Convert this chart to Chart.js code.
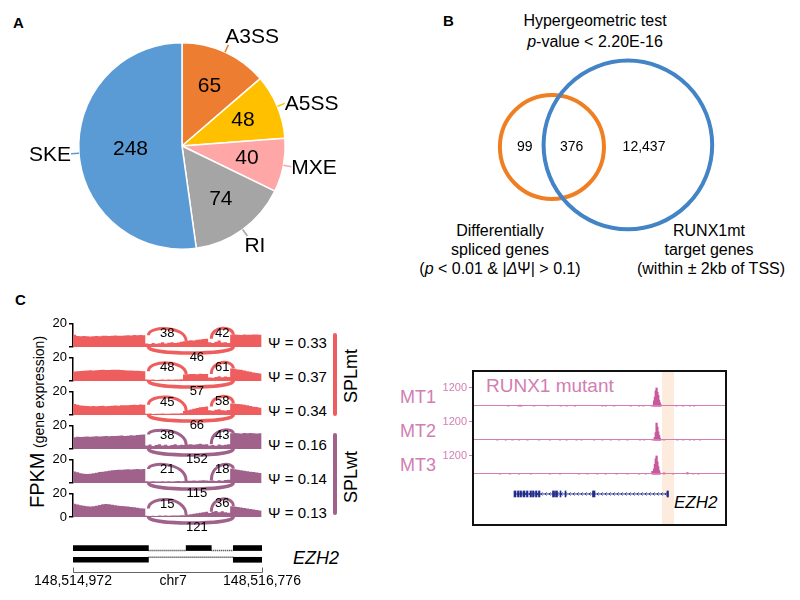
<!DOCTYPE html>
<html>
<head>
<meta charset="utf-8">
<script src="https://cdn.jsdelivr.net/npm/chart.js@4.4.1/dist/chart.umd.min.js"></script>
<style>
  body { margin: 0; background: #fff; font-family: "Liberation Sans", Arial, sans-serif; }
  #wrap { position: relative; width: 800px; height: 600px; overflow: hidden; }
  canvas { position: absolute; }
  .t { position: absolute; white-space: nowrap; line-height: 1; transform: translateY(-50%); color: #000; }
  .c { transform: translate(-50%, -50%); }
  .pk { color: #D27EB2; }
</style>
</head>
<body>
<div id="wrap">
  <!-- panel letters -->
  <div class="t" style="left:13px;top:22px;font-size:15px;font-weight:bold">A</div>
  <div class="t" style="left:443px;top:20px;font-size:15px;font-weight:bold">B</div>
  <div class="t" style="left:15px;top:299px;font-size:15px;font-weight:bold">C</div>

  <!-- panel B texts -->
  <div class="t c" style="left:595px;top:21px;font-size:16px">Hypergeometric test</div>
  <div class="t c" style="left:595px;top:42px;font-size:16px"><i>p</i>-value &lt; 2.20E-16</div>
  <div class="t c" style="left:500px;top:231px;font-size:16px">Differentially</div>
  <div class="t c" style="left:500px;top:250px;font-size:16px">spliced genes</div>
  <div class="t c" style="left:500px;top:269px;font-size:16px">(<i>p</i> &lt; 0.01 &amp; |<i>Δ</i>Ψ| &gt; 0.1)</div>
  <div class="t c" style="left:709px;top:231px;font-size:16px">RUNX1mt</div>
  <div class="t c" style="left:709px;top:250px;font-size:16px">target genes</div>
  <div class="t c" style="left:711px;top:269px;font-size:16px">(within ± 2kb of TSS)</div>

  <!-- panel C side texts -->
  <div class="t c" style="left:37px;top:422px;transform:translate(-50%,-50%) rotate(-90deg)"><span style="font-size:20px">FPKM</span> <span style="font-size:14px">(gene expression)</span></div>
  <div id="psiBox"></div>
  <div style="position:absolute;left:333px;top:333px;width:4px;height:83px;border-radius:2px;background:#EF5E5E"></div>
  <div style="position:absolute;left:333px;top:433px;width:4px;height:82px;border-radius:2px;background:#A0628B"></div>
  <div class="t c" style="left:351px;top:376px;font-size:18px;transform:translate(-50%,-50%) rotate(-90deg)">SPLmt</div>
  <div class="t c" style="left:351px;top:477px;font-size:18px;transform:translate(-50%,-50%) rotate(-90deg)">SPLwt</div>
  <div class="t" style="left:293px;top:558px;font-size:18px;font-style:italic">EZH2</div>

  <!-- right panel texts -->
  <div class="t pk" style="left:486px;top:385px;font-size:19px">RUNX1 mutant</div>
  <div class="t pk" style="right:364px;top:397px;font-size:18px">MT1</div>
  <div class="t pk" style="right:364px;top:431px;font-size:18px">MT2</div>
  <div class="t pk" style="right:364px;top:465px;font-size:18px">MT3</div>
  <div class="t" style="left:674px;top:502px;font-size:17px;font-style:italic">EZH2</div>
</div>

<script>
Chart.defaults.font.family = '"Liberation Sans", Arial, sans-serif';
Chart.defaults.animation = false;

// ── Panel A: splicing event types ───────────────────────────
const pieLabels = ['A3SS', 'A5SS', 'MXE', 'RI', 'SKE'];
const pieCounts = [65, 48, 40, 74, 248];
const pieColors = ['#ED7D31', '#FFC000', '#FFA7A7', '#A5A5A5', '#5B9BD5'];

// ── Panel B: overlap of the two gene sets ───────────────────
const vennNames = ['Differentially spliced genes', 'RUNX1mt target genes'];
const vennX = [0, 1.46];
const vennY = [0, 0.04];
const vennR = [1, 1.62];
const vennColors = ['#EF7F22', '#4384C6'];
const vennCounts = ['99', '376', '12,437'];
const vennCountX = [-0.52, 0.38, 1.77];

// ── Panel C: sashimi of EZH2 (30 bp bins from region start) ─
const regionSpan = 1804;
const binSize = 30;
const exonsLong = [[0, 720], [1080, 1320], [1530, 1804]];
const exonsSkip = [[0, 720], [1530, 1804]];
const rulerPos = [0, 955, 1804];
const rulerLabels = ['148,514,972', 'chr7', '148,516,776'];

const covMt1 = [11.5,10.5,9.5,9.2,9.4,9.3,9.0,9.2,9.5,9.3,9.6,9.8,9.5,9.7,9.9,9.6,9.8,10.0,10.2,10.0,10.3,10.1,10.4,10.2,
  3.0,2.5,3.5,2.8,3.2,4.0,3.0,3.6,4.2,3.4,3.8,4.5,
  5.0,5.4,5.8,5.6,6.2,6.5,6.8,7.2,
  4.0,3.5,4.5,5.5,3.8,4.2,3.5,
  10.5,10.8,10.6,10.4,10.7,10.5,10.6,10.8,10.7,10.6];
const covMt2 = [8.0,8.2,8.5,8.6,8.8,9.0,9.2,9.1,9.3,9.5,9.6,9.4,9.5,9.7,9.8,9.6,9.4,9.3,9.1,9.0,8.8,8.9,8.7,8.5,
  1.2,1.0,1.3,0.9,1.1,1.2,1.0,1.4,1.1,1.3,1.2,1.5,
  5.5,5.8,6.0,6.0,5.8,6.2,6.0,6.1,
  3.0,2.8,3.5,4.0,3.2,3.8,3.5,
  10.8,10.5,10.0,9.6,9.0,8.5,8.0,7.4,6.8,6.5];
const covMt3 = [10.0,9.5,8.8,8.2,8.0,7.8,7.6,7.8,7.5,7.7,7.9,7.6,7.8,8.0,8.2,8.0,8.3,8.5,8.4,8.6,8.8,8.7,9.0,8.9,
  1.0,1.2,0.9,1.1,1.0,1.3,1.1,1.0,1.2,1.4,1.3,1.5,
  3.5,4.2,4.8,5.4,6.0,6.6,7.0,7.4,
  4.0,3.6,4.5,5.0,4.2,3.8,4.4,
  10.0,9.8,9.5,9.2,8.8,8.3,7.8,7.2,6.8,6.2];
const covWt1 = [10.0,10.2,10.5,10.3,10.6,10.8,10.5,10.7,11.0,10.8,11.0,11.2,11.0,11.3,11.1,11.4,11.6,11.3,11.5,11.8,11.6,12.0,12.2,12.4,
  3.0,3.8,2.6,3.4,4.2,3.0,3.6,2.8,3.5,4.0,3.2,3.6,
  3.5,3.8,4.2,3.6,4.0,4.5,3.8,4.2,
  3.0,3.5,2.8,3.8,3.2,3.6,4.0,
  13.5,13.8,13.6,13.4,13.7,13.5,13.8,13.6,13.4,13.5];
const covWt2 = [10.5,10.0,9.2,8.5,8.0,7.8,8.0,8.4,8.8,9.4,9.8,10.2,10.6,11.0,11.2,11.5,11.4,11.6,11.8,11.7,11.9,12.0,11.8,12.1,
  1.5,1.3,1.6,1.2,1.4,1.5,1.3,1.6,1.4,1.5,1.7,1.6,
  1.8,2.0,1.9,2.2,2.0,2.1,2.3,2.2,
  2.0,2.2,1.8,2.4,2.0,2.5,2.8,
  12.2,11.8,11.5,11.0,10.6,10.2,9.8,9.4,9.0,8.6];
const covWt3 = [12.0,11.5,10.8,10.2,9.6,9.2,9.0,9.3,9.8,10.4,10.9,11.2,11.0,10.6,10.2,9.8,9.5,9.2,9.0,8.6,8.3,8.0,7.6,7.3,
  1.0,0.8,1.1,0.9,1.2,1.0,1.3,1.1,1.2,1.4,1.3,1.5,
  1.6,2.0,2.4,2.9,3.3,3.7,4.1,4.5,
  3.5,4.5,5.2,4.0,5.0,4.2,3.6,
  9.2,9.0,8.6,8.2,7.8,7.4,7.0,6.5,6.0,5.6];

const coverages = [covMt1, covMt2, covMt3, covWt1, covWt2, covWt3];
const juncInc1 = [38, 48, 45, 38, 21, 15];
const juncInc2 = [42, 61, 58, 43, 18, 36];
const juncSkip = [46, 57, 66, 152, 115, 121];
const psiValues = ['0.33', '0.37', '0.34', '0.16', '0.14', '0.13'];
const trackColors = ['#EF5E5E', '#EF5E5E', '#EF5E5E', '#A0628B', '#A0628B', '#A0628B'];

// ── Right panel: RUNX1 mutant ChIP tracks ([bin, signal]) ───
const chipMax = 1200;
const chipBins = 251;
const chipMt1 = [[16,70],[28,40],[30,90],[32,60],[47,30],[63,25],[79,45],[86,30],[96,25],[129,50],[133,40],[143,35],
  [163,25],[173,30],[178,35],[188,60],[190,90],[191,350],[192,600],[193,1000],[194,1200],[195,900],[196,700],
  [197,400],[198,220],[199,100],[218,40],[226,35],[234,55],[239,30]];
const chipMt2 = [[3,25],[13,20],[21,30],[29,25],[39,20],[53,30],[66,25],[78,20],[86,30],[98,25],[104,20],[119,45],
  [129,25],[139,20],[149,25],[159,20],[174,30],[179,20],[189,40],[191,80],[192,200],[193,500],[194,1100],
  [195,850],[196,550],[197,320],[198,150],[199,60],[203,30],[219,25],[226,20],[234,30],[239,25],[246,20]];
const chipMt3 = [[6,40],[18,30],[29,50],[43,30],[66,60],[78,30],[101,40],[111,60],[123,30],[133,45],[146,35],
  [159,30],[173,55],[181,40],[189,200],[190,100],[191,350],[192,650],[193,1000],[194,1200],[195,800],[196,500],
  [197,250],[198,90],[203,100],[214,50],[231,110],[238,60],[244,40]];
const chipTracks = [chipMt1, chipMt2, chipMt3];
const ezh2Exons = [[40,42],[43.5,45],[46,47.5],[49,51],[52.5,54],[56,57.5],[58.5,60],[61.5,63],[64.5,66],
  [78.5,80.5],[81.5,83.5],[86,87],[91,92],[118.5,121],[193,194.5]];
const ezh2Highlight = [188, 200];

// ── helpers ─────────────────────────────────────────────────
const wrap = document.getElementById('wrap');
function mk(left, top, w, h) {
  const c = document.createElement('canvas');
  c.width = w; c.height = h;
  c.style.left = left + 'px'; c.style.top = top + 'px';
  wrap.appendChild(c);
  return c;
}
const base = { responsive: false, animation: false, devicePixelRatio: 1,
  plugins: { legend: { display: false }, tooltip: { enabled: false } } };

// ── Panel A pie ─────────────────────────────────────────────
const pieText = {
  id: 'pieText',
  afterDatasetsDraw(chart) {
    const ctx = chart.ctx;
    chart.getDatasetMeta(0).data.forEach((arc, i) => {
      const p = arc.getProps(['x', 'y', 'startAngle', 'endAngle', 'outerRadius'], true);
      const mid = (p.startAngle + p.endAngle) / 2;
      const c = Math.cos(mid), s = Math.sin(mid);
      const frac = (p.endAngle - p.startAngle) / (2 * Math.PI);
      const rv = p.outerRadius * (frac > 0.4 ? 0.5 : 0.64);
      ctx.save();
      ctx.font = '21px "Liberation Sans", Arial';
      ctx.fillStyle = '#000';
      ctx.textAlign = 'center'; ctx.textBaseline = 'middle';
      ctx.fillText(String(pieCounts[i]), p.x + c * rv, p.y + s * rv);
      // leader line
      const r1 = p.outerRadius, r2 = p.outerRadius + 8;
      const ex = p.x + c * r2, ey = p.y + s * r2;
      ctx.strokeStyle = pieColors[i]; ctx.lineWidth = 1.5;
      ctx.beginPath(); ctx.moveTo(p.x + c * r1, p.y + s * r1); ctx.lineTo(ex, ey); ctx.stroke();
      let tx = ex, ty = ey + 1;
      if (s < -0.7) { ctx.textBaseline = 'bottom'; ty = ey + 3; tx = ex - 3; }
      else if (s > 0.7) { ctx.textBaseline = 'top'; ty = ey; tx = ex - 3; }
      ctx.textAlign = c >= 0 ? 'left' : 'right';
      ctx.fillText(pieLabels[i], tx, ty);
      ctx.restore();
    });
  }
};
new Chart(mk(0, 0, 400, 290), {
  type: 'pie',
  data: { labels: pieLabels, datasets: [{ data: pieCounts, backgroundColor: pieColors, borderColor: '#fff', borderWidth: 1.5 }] },
  options: { ...base, layout: { padding: { left: 78, right: 114, top: 42, bottom: 40 } } },
  plugins: [pieText]
});

// ── Panel B venn ────────────────────────────────────────────
const vennText = {
  id: 'vennText',
  afterDatasetsDraw(chart) {
    const ctx = chart.ctx, xs = chart.scales.x, ys = chart.scales.y;
    ctx.save();
    ctx.font = '14px "Liberation Sans", Arial';
    ctx.fillStyle = '#000'; ctx.textAlign = 'center'; ctx.textBaseline = 'middle';
    vennCounts.forEach((t, i) => ctx.fillText(t, xs.getPixelForValue(vennCountX[i]), ys.getPixelForValue(0)));
    ctx.restore();
  }
};
new Chart(mk(490, 55, 230, 185), {
  type: 'scatter',
  data: { datasets: [{
    label: vennNames.join(' / '),
    data: vennX.map((x, i) => ({ x, y: vennY[i], r: vennR[i] })),
    pointRadius: c => {
      const s = c.chart.scales.x;
      return c.raw ? Math.max(0, s.getPixelForValue(c.raw.r) - s.getPixelForValue(0)) : 0;
    },
    pointBorderColor: c => vennColors[c.dataIndex],
    pointBackgroundColor: 'rgba(0,0,0,0)',
    pointBorderWidth: 4,
    clip: false
  }] },
  options: { ...base, layout: { padding: 0 },
    scales: { x: { type: 'linear', min: -1.19, max: 3.23, display: false },
              y: { type: 'linear', min: -1.79, max: 1.77, display: false } } },
  plugins: [vennText]
});

// ── Panel C sashimi tracks ──────────────────────────────────
function sashimiArcs(i, color) {
  return {
    id: 'sashimi' + i,
    afterDatasetsDraw(chart) {
      const ctx = chart.ctx, xs = chart.scales.x, ys = chart.scales.y;
      const cov = coverages[i];
      const y0 = ys.getPixelForValue(0);
      const yc = ys.getPixelForValue(18.5);
      ctx.save();
      ctx.strokeStyle = color;
      ctx.font = '13px "Liberation Sans", Arial';
      ctx.fillStyle = '#000'; ctx.textAlign = 'center'; ctx.textBaseline = 'middle';
      const ups = [[exonsLong[0][1], exonsLong[1][0], juncInc1[i]], [exonsLong[1][1], exonsLong[2][0], juncInc2[i]]];
      ups.forEach(([a, b, n]) => {
        const x1 = xs.getPixelForValue(a), x2 = xs.getPixelForValue(b);
        const y1 = ys.getPixelForValue(cov[Math.round(a / binSize) - 1]);
        const y2 = ys.getPixelForValue(cov[Math.round(b / binSize)]);
        ctx.lineWidth = 3;
        ctx.beginPath(); ctx.moveTo(x1, y1); ctx.bezierCurveTo(x1, yc, x2, yc, x2, y2); ctx.stroke();
        const ym = 0.125 * y1 + 0.75 * yc + 0.125 * y2;
        ctx.fillText(String(n), (x1 + x2) / 2, ym + 5);
      });
      const s1 = xs.getPixelForValue(exonsSkip[0][1]), s2 = xs.getPixelForValue(exonsSkip[1][0]);
      ctx.lineWidth = 3.5;
      ctx.beginPath(); ctx.moveTo(s1, y0); ctx.bezierCurveTo(s1, y0 + 8, s2, y0 + 8, s2, y0); ctx.stroke();
      ctx.fillText(String(juncSkip[i]), (s1 + s2) / 2 + 6, y0 + 10);
      ctx.restore();
    }
  };
}

const binPos = covMt1.map((_, j) => j * binSize);
const psiBox = document.getElementById('psiBox');
coverages.forEach((cov, i) => {
  const baseline = 347 + 34 * i;
  const last = i === coverages.length - 1;
  new Chart(mk(40, baseline - 33, 222, 57), {
    type: 'line',
    data: { datasets: [{
      data: cov.map((v, j) => ({ x: binPos[j], y: v })),
      stepped: 'after', fill: 'origin', backgroundColor: trackColors[i],
      borderWidth: 0, pointRadius: 0
    }] },
    options: { ...base, layout: { padding: { top: 8, bottom: 24, left: 0, right: 0 } },
      scales: {
        x: { type: 'linear', min: 0, max: regionSpan, display: false },
        y: { min: 0, max: 20,
          afterFit: s => { s.width = 33; },
          afterBuildTicks: s => { s.ticks = [{ value: 0 }, { value: 20 }]; },
          ticks: { color: '#000', font: { size: 13 }, padding: 2,
                   callback: v => v === 20 ? '20' : (last ? '0' : '') },
          grid: { display: true, drawOnChartArea: false, drawTicks: true, tickLength: 4, color: '#000', lineWidth: 1.5 },
          border: { display: true, color: '#000', width: 1.5 } } } },
    plugins: [sashimiArcs(i, trackColors[i])]
  });
  const d = document.createElement('div');
  d.className = 't';
  d.style.left = '268px'; d.style.top = (baseline - 5) + 'px'; d.style.fontSize = '15px';
  d.textContent = 'Ψ = ' + psiValues[i];
  psiBox.appendChild(d);
});

// ── Panel C gene model + ruler ──────────────────────────────
const geneModel = {
  id: 'geneModel',
  afterDatasetsDraw(chart) {
    const ctx = chart.ctx, xs = chart.scales.x, ys = chart.scales.y;
    ctx.save();
    ctx.strokeStyle = '#222'; ctx.lineWidth = 1.5; ctx.setLineDash([1, 1]);
    [[exonsLong, 1], [exonsSkip, 0]].forEach(([ex, row]) => {
      const y = ys.getPixelForValue(row);
      for (let k = 0; k < ex.length - 1; k++) {
        ctx.beginPath();
        ctx.moveTo(xs.getPixelForValue(ex[k][1]), y);
        ctx.lineTo(xs.getPixelForValue(ex[k + 1][0]), y);
        ctx.stroke();
      }
    });
    ctx.setLineDash([]);
    // genomic ruler along the bottom of the plot area
    const yb = Math.round(chart.chartArea.bottom) + 0.5;
    const x0 = xs.getPixelForValue(0), x1 = xs.getPixelForValue(regionSpan);
    ctx.strokeStyle = '#666'; ctx.lineWidth = 1;
    ctx.beginPath();
    ctx.moveTo(Math.round(x0) + 0.5, yb - 5); ctx.lineTo(Math.round(x0) + 0.5, yb);
    ctx.lineTo(Math.round(x1) + 0.5, yb); ctx.lineTo(Math.round(x1) + 0.5, yb - 5);
    ctx.stroke();
    ctx.font = '14px "Liberation Sans", Arial';
    ctx.fillStyle = '#000'; ctx.textAlign = 'center'; ctx.textBaseline = 'middle';
    rulerPos.forEach((v, k) => ctx.fillText(rulerLabels[k], xs.getPixelForValue(v), yb + 9));
    ctx.restore();
  }
};
new Chart(mk(20, 530, 300, 66), {
  type: 'bar',
  data: { datasets: [
    { data: exonsLong.map(e => ({ x: e, y: 1 })), backgroundColor: '#000', barThickness: 5 },
    { data: exonsSkip.map(e => ({ x: e, y: 0 })), backgroundColor: '#000', barThickness: 5 }
  ] },
  options: { ...base, indexAxis: 'y', layout: { padding: { top: 8, left: 53, right: 58, bottom: 24 } },
    scales: {
      x: { type: 'linear', min: 0, max: regionSpan, display: false },
      y: { type: 'linear', min: -0.92, max: 1.6, display: false } } },
  plugins: [geneModel]
});

// ── Right panel: frame with highlight + EZH2 gene ───────────
const ezh2Track = {
  id: 'ezh2Track',
  beforeDatasetsDraw(chart) {
    const ctx = chart.ctx, xs = chart.scales.x, ys = chart.scales.y, a = chart.chartArea;
    ctx.save();
    const h1 = xs.getPixelForValue(ezh2Highlight[0]), h2 = xs.getPixelForValue(ezh2Highlight[1]);
    ctx.fillStyle = '#FDEBDD';
    ctx.fillRect(h1, a.top, h2 - h1, a.bottom - a.top);
    const y = ys.getPixelForValue(0);
    const g1 = xs.getPixelForValue(ezh2Exons[0][0]), g2 = xs.getPixelForValue(ezh2Exons[ezh2Exons.length - 1][1]);
    ctx.strokeStyle = '#2B3A9A'; ctx.lineWidth = 1;
    ctx.beginPath(); ctx.moveTo(g1, y); ctx.lineTo(g2, y); ctx.stroke();
    ctx.beginPath();
    for (let x = g1 + 3; x < g2 - 2; x += 4) { ctx.moveTo(x + 1.5, y - 1.5); ctx.lineTo(x, y); ctx.lineTo(x + 1.5, y + 1.5); }
    ctx.stroke();
    ctx.restore();
  }
};
new Chart(mk(474, 372, 251, 152), {
  type: 'bar',
  data: { datasets: [{ data: ezh2Exons.map(e => ({ x: e, y: 0 })), backgroundColor: '#1F2A8A', barThickness: 6 }] },
  options: { ...base, indexAxis: 'y', layout: { padding: 0 },
    scales: { x: { type: 'linear', min: 0, max: chipBins, display: false },
              y: { type: 'linear', min: -0.95, max: 5.5, display: false } } },
  plugins: [ezh2Track]
});

const chipBaseline = {
  id: 'chipBaseline',
  afterDatasetsDraw(chart) {
    const ctx = chart.ctx, a = chart.chartArea, y = chart.scales.y.getPixelForValue(0);
    ctx.save();
    ctx.strokeStyle = '#D27EB2'; ctx.lineWidth = 1;
    ctx.beginPath(); ctx.moveTo(a.left, Math.round(y) - 0.5); ctx.lineTo(a.right, Math.round(y) - 0.5); ctx.stroke();
    ctx.restore();
  }
};
chipTracks.forEach((sig, i) => {
  const baseline = 413 + 34 * i;
  new Chart(mk(441, baseline - 34, 284, 36), {
    type: 'bar',
    data: { datasets: [{ data: sig.map(([b, v]) => ({ x: b, y: v })), backgroundColor: '#C85A9C', barThickness: 1.6 }] },
    options: { ...base, layout: { padding: { top: 8, bottom: 2, left: 0, right: 0 } },
      scales: {
        x: { type: 'linear', min: 0, max: chipBins, display: false },
        y: { min: 0, max: chipMax,
          afterFit: s => { s.width = 33; },
          afterBuildTicks: s => { s.ticks = [{ value: chipMax }]; },
          ticks: { color: '#D27EB2', font: { size: 11 }, padding: 2, callback: v => String(v) },
          grid: { display: true, drawOnChartArea: false, drawTicks: true, tickLength: 5, color: '#D27EB2' },
          border: { display: false } } } },
    plugins: [chipBaseline]
  });
});

// frame border on top
const box = document.createElement('div');
box.style.cssText = 'position:absolute;left:472px;top:370px;width:255px;height:156px;box-sizing:border-box;border:2px solid #111;pointer-events:none';
wrap.appendChild(box);
</script>
</body>
</html>
